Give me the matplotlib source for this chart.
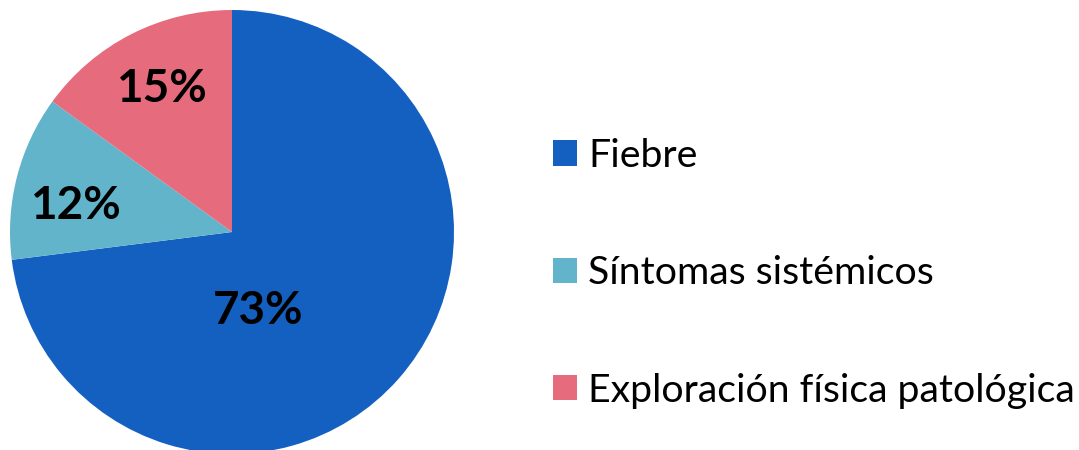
import matplotlib.pyplot as plt
from matplotlib.patches import Patch

categorias = ['Fiebre', 'Síntomas sistémicos', 'Exploración física patológica']
porcentajes = [73, 12, 15]
colores = ['#1360C0', '#62B4CB', '#E66C7D']

plt.rcParams['font.family'] = ['Lato', 'DejaVu Sans']

fig = plt.figure(figsize=(10.79, 4.5), dpi=100)
ax = fig.add_axes([10 / 1079, -4 / 450, 444 / 1079, 444 / 450])

wedges, textos, autotextos = ax.pie(
    porcentajes, colors=colores, startangle=90, counterclock=False,
    autopct='%d%%', pctdistance=0.71, radius=1,
    wedgeprops=dict(linewidth=0),
    textprops=dict(fontsize=33, fontweight='bold', color='black'))
# posiciones de etiquetas como en Excel
autotextos[0].set_position((0.117, -0.355))
autotextos[1].set_position((-0.707, 0.115))
autotextos[2].set_position((-0.32, 0.645))
ax.set_xlim(-1, 1)
ax.set_ylim(-1, 1)
ax.set_aspect('equal')

manijas = [Patch(facecolor=c) for c in colores]
fig.legend(manijas, categorias, loc='center left', bbox_to_anchor=(0.4797, 0.393),
           frameon=False, fontsize=28.3, handlelength=0.61, handleheight=0.61,
           handletextpad=0.28, labelspacing=2.07)

fig.savefig('out.png', dpi=100)
